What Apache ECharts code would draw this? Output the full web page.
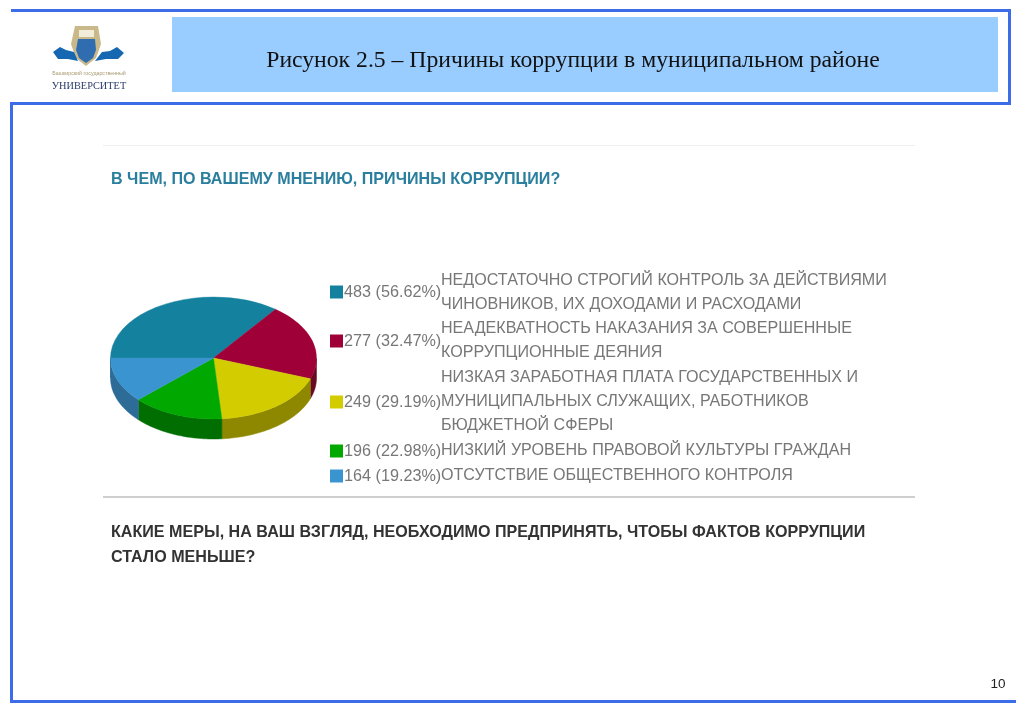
<!DOCTYPE html>
<html><head><meta charset="utf-8">
<style>html,body{margin:0;padding:0;background:#fff}#c{width:1024px;height:708px}</style>
<script src="https://cdn.jsdelivr.net/npm/echarts@6/dist/echarts.min.js"></script>
</head><body><div id="c"></div>
<script>
var categories = [
  ['НЕДОСТАТОЧНО СТРОГИЙ КОНТРОЛЬ ЗА ДЕЙСТВИЯМИ','ЧИНОВНИКОВ, ИХ ДОХОДАМИ И РАСХОДАМИ'],
  ['НЕАДЕКВАТНОСТЬ НАКАЗАНИЯ ЗА СОВЕРШЕННЫЕ','КОРРУПЦИОННЫЕ ДЕЯНИЯ'],
  ['НИЗКАЯ ЗАРАБОТНАЯ ПЛАТА ГОСУДАРСТВЕННЫХ И','МУНИЦИПАЛЬНЫХ СЛУЖАЩИХ, РАБОТНИКОВ','БЮДЖЕТНОЙ СФЕРЫ'],
  ['НИЗКИЙ УРОВЕНЬ ПРАВОВОЙ КУЛЬТУРЫ ГРАЖДАН'],
  ['ОТСУТСТВИЕ ОБЩЕСТВЕННОГО КОНТРОЛЯ']
];
var values = [483, 277, 249, 196, 164];
var percents = ['56.62%', '32.47%', '29.19%', '22.98%', '19.23%'];
var topColors = ['#14829f', '#a00038', '#d2cc00', '#00a800', '#3a94cf'];
var sideColors = ['#0d5a6e', '#6a0a22', '#8e8800', '#006e00', '#2e6c98'];
var legendRowY = [292, 341, 402, 451, 476];
var textRowY = [[281, 305], [329, 353], [378, 402, 426], [451], [476]];

var CX = 213.5, CY = 358, RX = 103, RY = 61, DEPTH = 20, TOTAL = values.reduce(function (a, b) { return a + b; }, 0);
var ANG = [], acc = 0;
values.forEach(function (v) { ANG.push([acc / TOTAL, (acc + v) / TOTAL]); acc += v; });
function angleAt(f) { return Math.PI + f * 2 * Math.PI; } // canvas angle, clockwise from 9 o'clock

function renderTop(params, api) {
  var i = api.value(0), a = ANG[i];
  return {
    type: 'group', x: CX, y: CY, scaleX: 1, scaleY: RY / RX,
    children: [{
      type: 'sector',
      shape: { cx: 0, cy: 0, r0: 0, r: RX, startAngle: angleAt(a[0]), endAngle: angleAt(a[1]), clockwise: true },
      style: { fill: topColors[i], stroke: topColors[i], lineWidth: 0.5 }
    }]
  };
}
function renderSide(params, api) {
  var i = api.value(0), a = ANG[i], top = [], bot = [], n = 60;
  for (var k = 0; k <= n; k++) {
    var t = angleAt(a[0] + (a[1] - a[0]) * k / n);
    var s = Math.sin(t);
    if (s < 0) continue;            // only the front half of the rim shows
    var x = CX + RX * Math.cos(t), y = CY + RY * s;
    top.push([x, y]); bot.unshift([x, y + DEPTH]);
  }
  if (!top.length) return { type: 'group', children: [] };
  return { type: 'polygon', shape: { points: top.concat(bot) }, style: { fill: sideColors[i], stroke: sideColors[i], lineWidth: 0.5 } };
}

var g = [];
function rect(x, y, w, h, fill) { g.push({ type: 'rect', shape: { x: x, y: y, width: w, height: h }, style: { fill: fill }, silent: true }); }
function text(x, y, s, font, fill, align) { g.push({ type: 'text', x: x, y: y, style: { text: s, font: font, fill: fill, textAlign: align || 'left', textVerticalAlign: 'middle' }, silent: true }); }

var BLUE = '#3d6ce8';
rect(11, 9, 1000, 3, BLUE);
rect(1008, 9, 3, 95, BLUE);
rect(10, 102, 1001, 3, BLUE);
rect(10, 102, 3, 601, BLUE);
rect(10, 700, 1006, 3, BLUE);
rect(172, 17, 826, 75, '#99ccff');
text(573, 61, 'Рисунок 2.5 – Причины коррупции в муниципальном районе', '23.7px "Liberation Serif"', '#111', 'center');

// logo
g.push({ type: 'polygon', shape: { points: [[75, 26], [98, 26], [101, 44], [96, 58], [86, 66], [76, 58], [71, 44]] }, style: { fill: '#c9b98a' }, silent: true });
g.push({ type: 'polygon', shape: { points: [[78, 39], [95, 39], [96, 50], [93, 58], [86, 63], [79, 58], [76, 50]] }, style: { fill: '#2f6db0' }, silent: true });
rect(79, 30, 15, 7, '#f2edd8');
g.push({ type: 'polygon', shape: { points: [[53, 52], [60, 47], [66, 50], [74, 52], [78, 61], [68, 59], [58, 59]] }, style: { fill: '#1467b0' }, silent: true });
g.push({ type: 'polygon', shape: { points: [[124, 53], [117, 47], [110, 51], [102, 52], [95, 61], [106, 59], [118, 59]] }, style: { fill: '#1467b0' }, silent: true });
text(89, 74, 'Башкирский государственный', '5.3px "Liberation Sans"', '#a89a70', 'center');
text(89, 86, 'УНИВЕРСИТЕТ', '10.3px "Liberation Serif"', '#2a3a6a', 'center');

// survey panel
rect(103, 145, 812, 1, '#eeeeee');
rect(103, 496, 812, 2, '#cfcfcf');
text(111, 180, 'В ЧЕМ, ПО ВАШЕМУ МНЕНИЮ, ПРИЧИНЫ КОРРУПЦИИ?', 'bold 16.1px "Liberation Sans"', '#2a7f9e');
text(111, 533, 'КАКИЕ МЕРЫ, НА ВАШ ВЗГЛЯД, НЕОБХОДИМО ПРЕДПРИНЯТЬ, ЧТОБЫ ФАКТОВ КОРРУПЦИИ', 'bold 16.1px "Liberation Sans"', '#333');
text(111, 558, 'СТАЛО МЕНЬШЕ?', 'bold 16.1px "Liberation Sans"', '#333');
text(998, 684, '10', '13.5px "Liberation Sans"', '#222', 'center');

// legend rows
values.forEach(function (v, i) {
  rect(330, legendRowY[i] - 6.5, 13, 13, topColors[i]);
  text(344, legendRowY[i] + 1, v + ' (' + percents[i] + ')', '16.2px "Liberation Sans"', '#777');
  categories[i].forEach(function (line, j) {
    text(441, textRowY[i][j], line, '16.1px "Liberation Sans"', '#777');
  });
});

var rows = values.map(function (v, i) { return [i, v]; });
var chart = echarts.init(document.getElementById('c'), null, { renderer: 'canvas' });
chart.setOption({
  animation: false,
  backgroundColor: '#ffffff',
  graphic: { elements: g },
  series: [
    { type: 'custom', coordinateSystem: 'none', z: 3, silent: true, data: rows, renderItem: renderSide },
    { type: 'custom', coordinateSystem: 'none', z: 4, silent: true, data: rows, renderItem: renderTop }
  ]
});
</script></body></html>
